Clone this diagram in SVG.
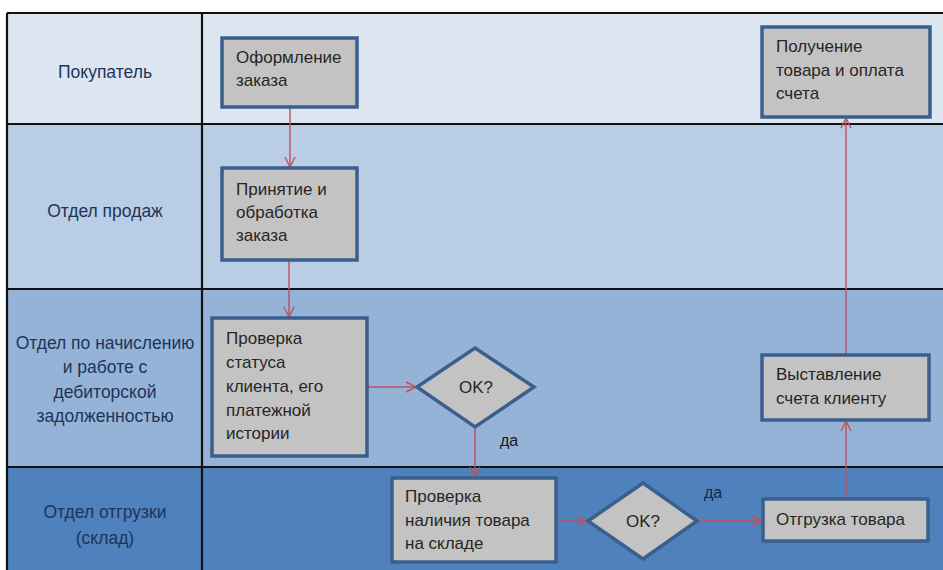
<svg xmlns="http://www.w3.org/2000/svg" width="943" height="570" viewBox="0 0 943 570">
  <style>
    .lane-label { font-family: "Liberation Sans", "Noto Sans", sans-serif; font-size: 17.5px; fill: #1c355a; text-anchor: middle; }
    .box { fill: #c3c3c3; stroke: #3b5f8c; stroke-width: 3.5; }
    .txt { font-family: "Liberation Sans", "Noto Sans", sans-serif; font-size: 17px; fill: #262626; }
    .ctr { text-anchor: middle; }
    .edge { fill: none; stroke: #c0505d; stroke-width: 1.4; marker-end: url(#arrow); }
    .sep { stroke: #111111; stroke-width: 2.2; }
    .yes { font-family: "Liberation Sans", "Noto Sans", sans-serif; font-size: 16px; }
  </style>
  <defs>
    <marker id="arrow" viewBox="0 0 12 12" refX="11" refY="6" markerWidth="12" markerHeight="12" markerUnits="userSpaceOnUse" orient="auto">
      <path d="M1,1 L11,6 L1,11" fill="none" stroke="#c0505d" stroke-width="1.4"/>
    </marker>
  </defs>

  <rect width="943" height="570" fill="#ffffff"/>

  <!-- swimlanes -->
  <g id="lanes">
    <rect x="7" y="13" width="936" height="111" fill="#dce6f1"/>
    <rect x="7" y="124" width="936" height="165" fill="#b9cde5"/>
    <rect x="7" y="289" width="936" height="178" fill="#95b3d7"/>
    <rect x="7" y="467" width="936" height="103" fill="#4f81bd"/>
    <line class="sep" x1="7" y1="13" x2="943" y2="13"/>
    <line class="sep" x1="7" y1="124" x2="943" y2="124"/>
    <line class="sep" x1="7" y1="289" x2="943" y2="289"/>
    <line class="sep" x1="7" y1="467" x2="943" y2="467" stroke="#0f2340"/>
    <line class="sep" x1="7" y1="13" x2="7" y2="570"/>
    <line class="sep" x1="202" y1="13" x2="202" y2="570"/>
    <text class="lane-label" x="105" y="78">Покупатель</text>
    <text class="lane-label" x="105" y="217">Отдел продаж</text>
    <text class="lane-label" x="105" y="349">Отдел по начислению</text>
    <text class="lane-label" x="105" y="373">и работе с</text>
    <text class="lane-label" x="105" y="398">дебиторской</text>
    <text class="lane-label" x="105" y="422">задолженностью</text>
    <text class="lane-label" x="105" y="518" fill="#14294a">Отдел отгрузки</text>
    <text class="lane-label" x="105" y="544" fill="#14294a">(склад)</text>
  </g>

  <!-- connectors -->
  <g id="connectors">
    <line class="edge" x1="290" y1="107" x2="290" y2="167"/>
    <line class="edge" x1="289" y1="260" x2="289" y2="317"/>
    <line class="edge" x1="367" y1="387" x2="416" y2="387"/>
    <line class="edge" x1="475" y1="427" x2="475" y2="477"/>
    <line class="edge" x1="556" y1="521" x2="587" y2="521"/>
    <line class="edge" x1="697" y1="521" x2="762" y2="521"/>
    <line class="edge" x1="846" y1="499" x2="846" y2="421"/>
    <line class="edge" x1="846" y1="355" x2="846" y2="118"/>
    <text class="yes" x="500" y="446" fill="#1a1a1a">да</text>
    <text class="yes" x="704" y="498" fill="#14294a">да</text>
  </g>

  <!-- nodes -->
  <g id="n-order">
    <rect class="box" x="222" y="38" width="135" height="69"/>
    <text class="txt" x="236" y="63">Оформление</text>
    <text class="txt" x="236" y="86">заказа</text>
  </g>
  <g id="n-accept">
    <rect class="box" x="222" y="168" width="135" height="92"/>
    <text class="txt" x="236" y="195">Принятие и</text>
    <text class="txt" x="236" y="218">обработка</text>
    <text class="txt" x="236" y="241">заказа</text>
  </g>
  <g id="n-status">
    <rect class="box" x="212" y="318" width="155" height="138"/>
    <text class="txt" x="226" y="344">Проверка</text>
    <text class="txt" x="226" y="368">статуса</text>
    <text class="txt" x="226" y="392">клиента, его</text>
    <text class="txt" x="226" y="416">платежной</text>
    <text class="txt" x="226" y="439">истории</text>
  </g>
  <g id="n-ok1">
    <polygon class="box" points="475,348 534,387 475,427 417,387"/>
    <text class="txt ctr" x="476" y="393">OK?</text>
  </g>
  <g id="n-stock">
    <rect class="box" x="392" y="478" width="164" height="84"/>
    <text class="txt" x="405" y="502">Проверка</text>
    <text class="txt" x="405" y="526">наличия товара</text>
    <text class="txt" x="405" y="549">на складе</text>
  </g>
  <g id="n-ok2">
    <polygon class="box" points="643,483 697,521 643,559 588,521"/>
    <text class="txt ctr" x="643" y="527">OK?</text>
  </g>
  <g id="n-ship">
    <rect class="box" x="763" y="499" width="165" height="42"/>
    <text class="txt" x="776" y="525">Отгрузка товара</text>
  </g>
  <g id="n-invoice">
    <rect class="box" x="762" y="355" width="167" height="65"/>
    <text class="txt" x="776" y="380">Выставление</text>
    <text class="txt" x="776" y="404">счета клиенту</text>
  </g>
  <g id="n-receive">
    <rect class="box" x="762" y="27" width="168" height="90"/>
    <text class="txt" x="776" y="52">Получение</text>
    <text class="txt" x="776" y="76">товара и оплата</text>
    <text class="txt" x="776" y="99">счета</text>
  </g>
</svg>
